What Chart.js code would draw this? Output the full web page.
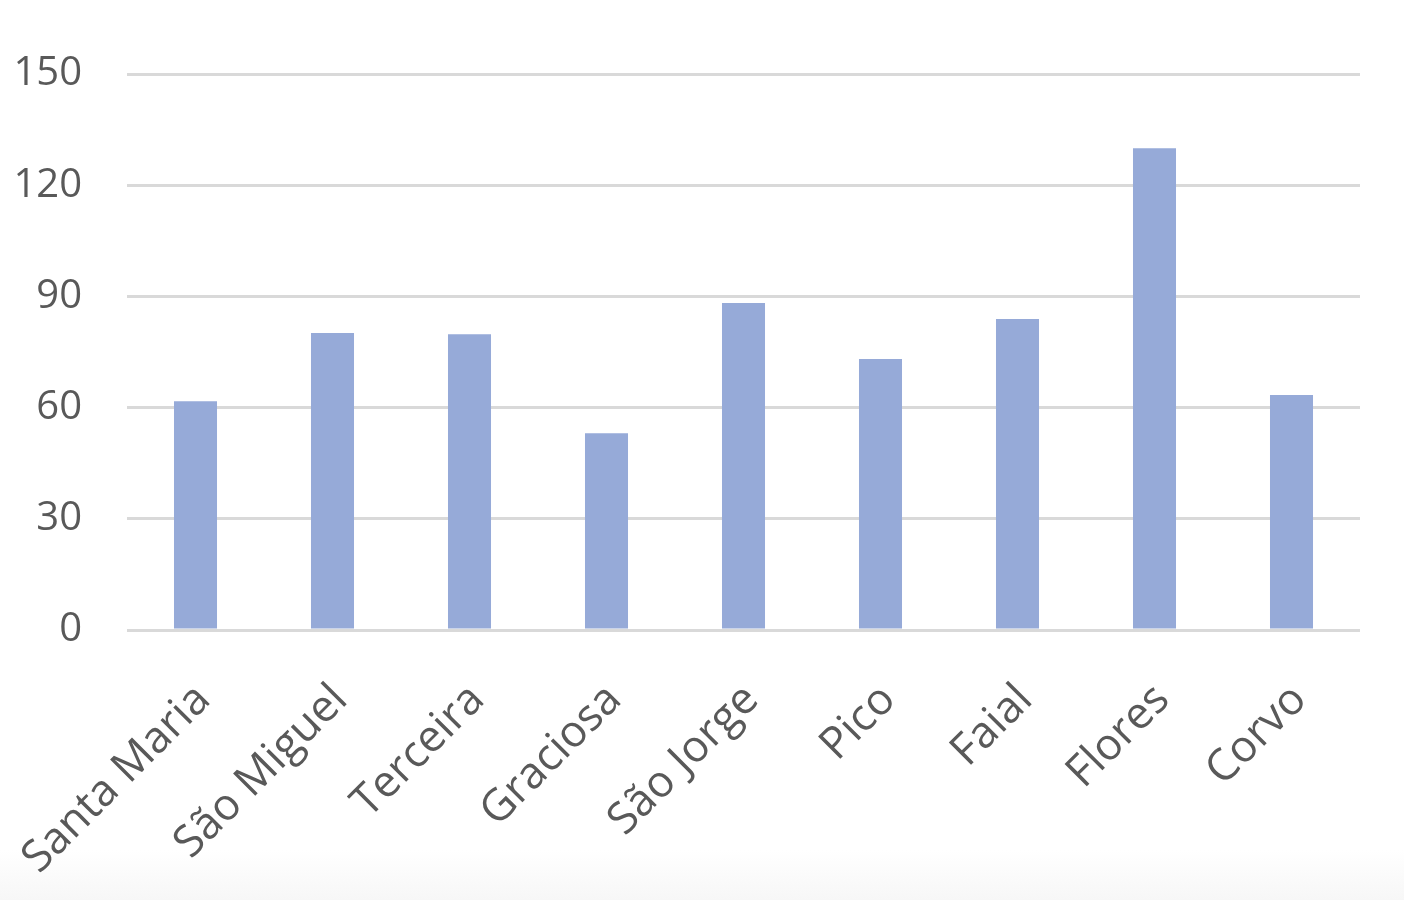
<!DOCTYPE html>
<html>
<head>
<meta charset="utf-8">
<script src="https://cdn.jsdelivr.net/npm/chart.js@4/dist/chart.umd.min.js"></script>
<style>
html,body{margin:0;padding:0;width:1404px;height:900px;overflow:hidden;
background:linear-gradient(to bottom,#ffffff 0px,#ffffff 850px,#f7f7f7 900px);}
#wrap{position:absolute;left:0;top:0;width:1404px;height:900px;}
</style>
</head>
<body>
<div id="wrap"><canvas id="c" width="1404" height="900"></canvas></div>
<script>
const categories = ["Santa Maria","São Miguel","Terceira","Graciosa","São Jorge","Pico","Faial","Flores","Corvo"];
const values = [61.7, 80.1, 79.8, 53.1, 88.2, 73.1, 83.9, 130.0, 63.4];
const yTicks = [0, 30, 60, 90, 120, 150];

const ctx = document.getElementById('c').getContext('2d');
new Chart(ctx, {
  type: 'bar',
  data: {
    labels: categories,
    datasets: [{
      data: values,
      backgroundColor: '#96aad8',
      borderWidth: 0,
      categoryPercentage: 1,
      barPercentage: 0.314
    }]
  },
  options: {
    responsive: false,
    animation: false,
    devicePixelRatio: 1,
    layout: { padding: { top: 74, right: 44, left: 0, bottom: 0 } },
    plugins: { legend: { display: false }, tooltip: { enabled: false } },
    scales: {
      x: {
        grid: { display: false, drawTicks: false },
        border: { display: false },
        ticks: {
          color: '#595959',
          font: { family: 'Open Sans', size: 44 },
          minRotation: 45, maxRotation: 45,
          padding: 44,
          labelOffset: 8,
          autoSkip: false
        },
        afterFit: s => { s.height = 270; s.paddingLeft = 0; s.paddingRight = 0; }
      },
      y: {
        min: 0, max: 150,
        afterBuildTicks: s => { s.ticks = yTicks.map(v => ({ value: v })); },
        grid: { color: '#d9d9d9', lineWidth: 3, drawTicks: false },
        border: { display: false },
        ticks: {
          color: '#595959',
          font: { family: 'Open Sans', size: 40 },
          padding: 45
        },
        afterFit: s => { s.width = 127; }
      }
    }
  }
});
</script>
</body>
</html>
